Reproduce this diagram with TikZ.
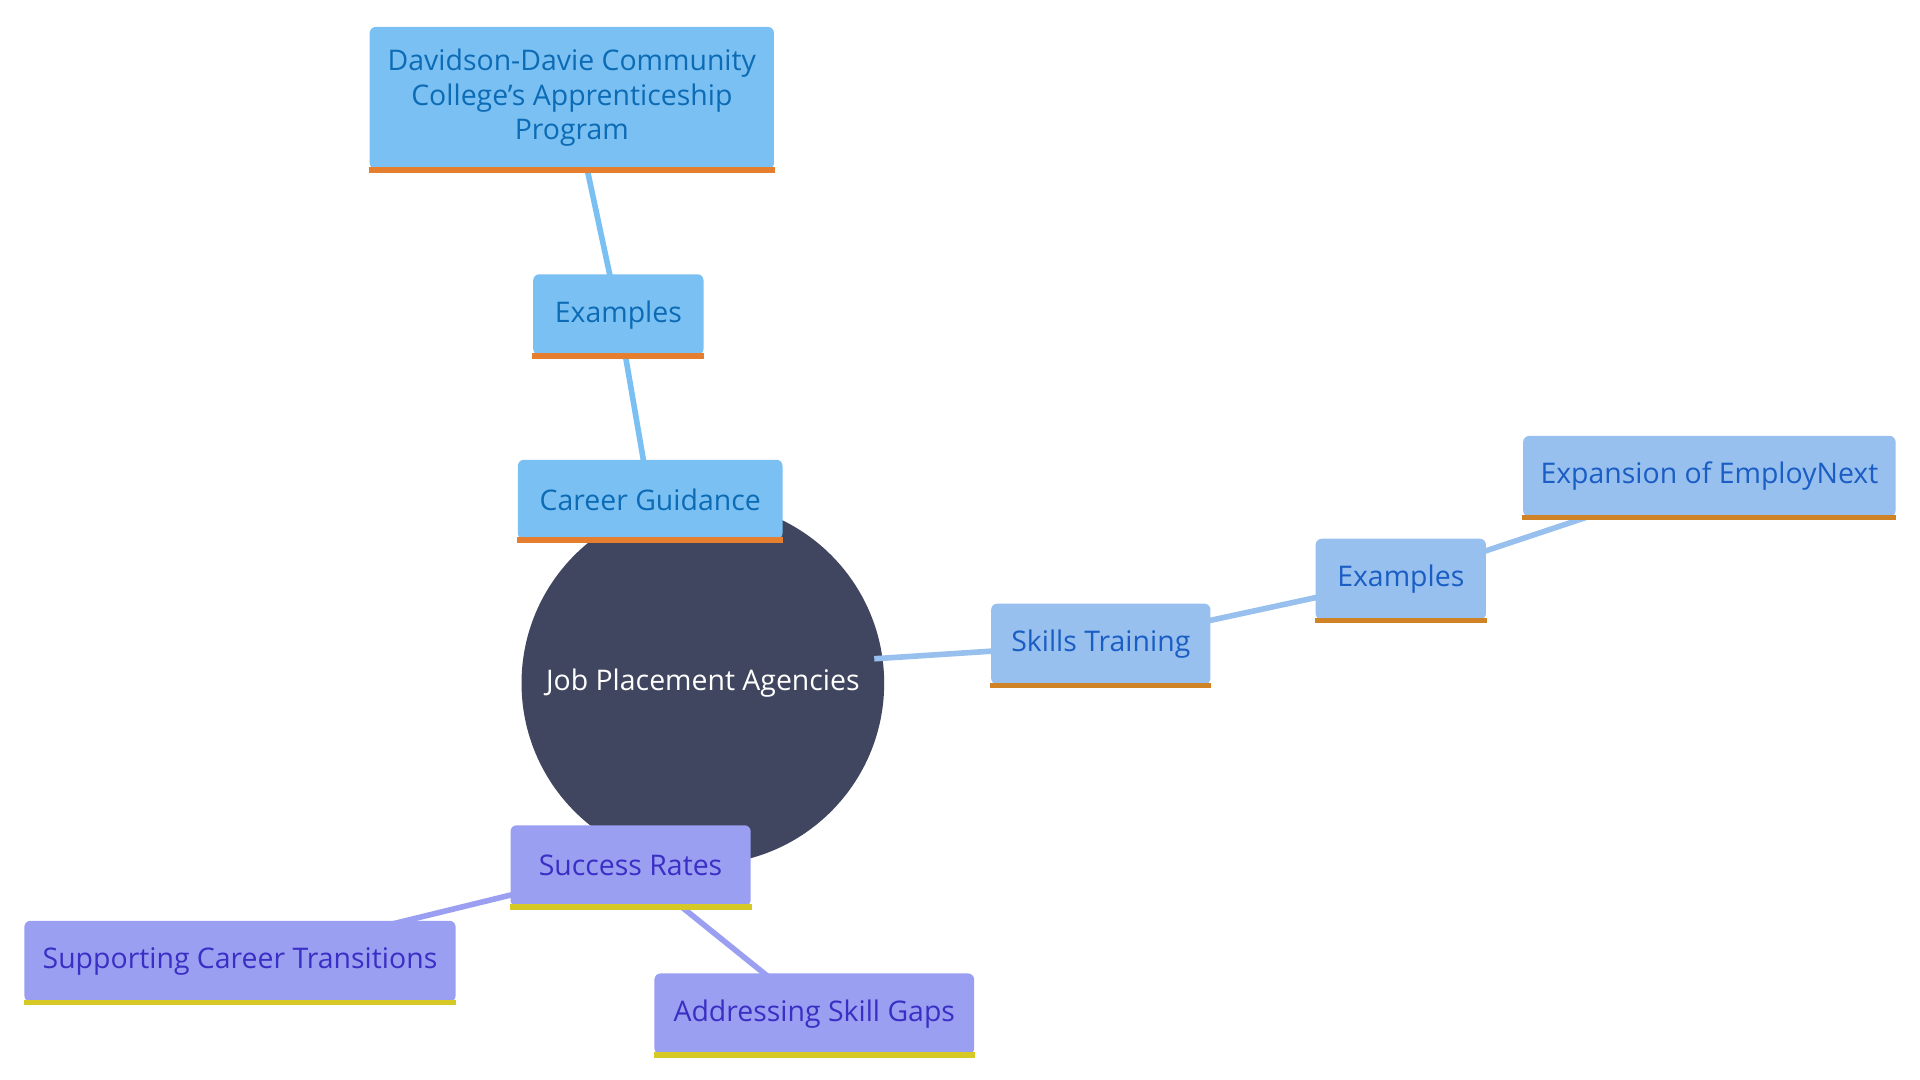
\documentclass[tikz,border=0pt]{standalone}
\usepackage{fontspec}
\setmainfont{Open Sans}
\begin{document}
\begin{tikzpicture}[x=0.01cm,y=-0.01cm,
  box/.style={rectangle,rounded corners=0.05cm,inner sep=0pt,align=center,font=\fontsize{6.6}{8}\selectfont},
  bl/.style={box,fill=blue1,text=tb1},
  bm/.style={box,fill=blue2,text=tb2},
  bp/.style={box,fill=purp,text=tp},
  edge/.style={line width=1.3pt},
  bar/.style={line width=1.3pt}]
\definecolor{dark}{HTML}{414660}
\definecolor{blue1}{HTML}{7BC0F2}\definecolor{tb1}{HTML}{0C6BB5}
\definecolor{blue2}{HTML}{97C0EE}\definecolor{tb2}{HTML}{1A5DC4}
\definecolor{purp}{HTML}{9B9FF2}\definecolor{tp}{HTML}{3A2FC4}
\definecolor{or1}{HTML}{E67E30}\definecolor{or2}{HTML}{D08326}\definecolor{yl}{HTML}{D6C926}
\useasboundingbox (0,0) rectangle (1568,882);
\fill[white] (0,0) rectangle (1568,882);
% nodes
\node[circle,fill=dark,minimum size=2.96cm,inner sep=0pt,text=white,font=\fontsize{6.6}{8}\selectfont] (root) at (574,558) {Job Placement Agencies};
\coordinate (cgc) at (531,408); \coordinate (ex1c) at (505,257); \coordinate (dvc) at (467,80);
\coordinate (stc) at (899,526); \coordinate (ex2c) at (1144,473); \coordinate (enc) at (1396,389);
\coordinate (src) at (515,707); \coordinate (sctc) at (196,785); \coordinate (asgc) at (665,828);
\draw[edge,blue1] (root) -- (cgc) -- (ex1c) -- (dvc);
\draw[edge,blue2] (root.center) ++(140,-20) -- (stc) -- (ex2c) -- (enc);
\draw[edge,purp] (src) -- (sctc) (src) -- (asgc);
\node[bl,minimum width=2.16cm,minimum height=0.65cm] (cg) at (cgc) {Career Guidance};
\node[bl,minimum width=1.39cm,minimum height=0.66cm] (ex1) at (ex1c) {Examples};
\node[bl,minimum width=3.30cm,minimum height=1.16cm] (dv) at (dvc) {Davidson-Davie Community\\College's Apprenticeship\\Program};
\node[bm,minimum width=1.79cm,minimum height=0.66cm] (st) at (stc) {Skills Training};
\node[bm,minimum width=1.39cm,minimum height=0.66cm] (ex2) at (ex2c) {Examples};
\node[bm,minimum width=3.04cm,minimum height=0.66cm] (en) at (enc) {Expansion of EmployNext};
\node[bp,minimum width=1.96cm,minimum height=0.66cm] (sr) at (src) {Success Rates};
\node[bp,minimum width=3.52cm,minimum height=0.66cm] (sct) at (sctc) {Supporting Career Transitions};
\node[bp,minimum width=2.61cm,minimum height=0.66cm] (asg) at (asgc) {Addressing Skill Gaps};
\foreach \n in {cg,ex1,dv} \draw[bar,or1] (\n.south west) -- (\n.south east);
\foreach \n in {st,ex2,en} \draw[bar,or2] (\n.south west) -- (\n.south east);
\foreach \n in {sr,sct,asg} \draw[bar,yl] (\n.south west) -- (\n.south east);
\end{tikzpicture}
\end{document}
